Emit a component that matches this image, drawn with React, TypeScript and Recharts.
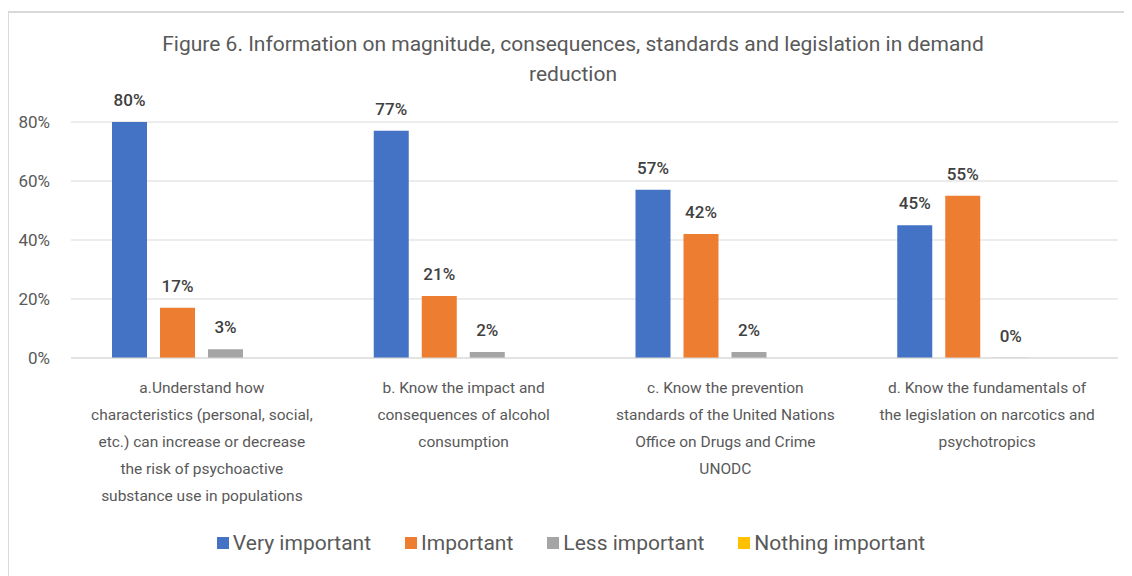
import React from "react";
import {
  BarChart,
  Bar,
  XAxis,
  YAxis,
  CartesianGrid,
  Legend,
  LabelList,
} from "recharts";

const title =
  "Figure 6. Information on magnitude, consequences, standards and legislation in demand\nreduction";

const categories = [
  "a.Understand how\ncharacteristics (personal, social,\netc.) can increase or decrease\nthe risk of psychoactive\nsubstance use in populations",
  "b. Know the impact and\nconsequences of alcohol\nconsumption",
  "c. Know the prevention\nstandards of the United Nations\nOffice on Drugs and Crime\nUNODC",
  "d. Know the fundamentals of\nthe legislation on narcotics and\npsychotropics",
];

const veryImportant = [80, 77, 57, 45];
const important = [17, 21, 42, 55];
const lessImportant = [3, 2, 2, 0];
const nothingImportant = [0, 0, 0, 0];

const seriesNames = ["Very important", "Important", "Less important", "Nothing important"];
const seriesColors = ["#4472C4", "#ED7D31", "#A5A5A5", "#FFC000"];
const yTicks = [0, 20, 40, 60, 80];

const data = categories.map((cat, i) => ({
  cat,
  very: veryImportant[i],
  imp: important[i],
  less: lessImportant[i],
  nothing: nothingImportant[i],
}));

const FONT = '"Liberation Sans Narrow", "Arial Narrow", Roboto, sans-serif';
const TEXT = "#595959";

function CategoryTick(props: any) {
  const { x, y, payload } = props;
  const lines = String(payload.value).split("\n");
  return (
    <text
      x={x}
      y={y + 33}
      textAnchor="middle"
      fill={TEXT}
      fontSize={15.5}
      fontFamily={FONT}
    >
      {lines.map((line, i) => (
        <tspan key={i} x={x} dy={i === 0 ? 0 : 27}>
          {line}
        </tspan>
      ))}
    </text>
  );
}

function LegendContent() {
  return (
    <div
      style={{
        height: 30,
        display: "flex",
        justifyContent: "center",
        alignItems: "center",
        paddingLeft: 16,
        fontFamily: FONT,
        fontSize: 21,
        color: TEXT,
      }}
    >
      {seriesNames.map((name, i) => (
        <div
          key={name}
          style={{ display: "flex", alignItems: "center", marginRight: i < 3 ? 34 : 0 }}
        >
          <span
            style={{
              width: 12,
              height: 12,
              background: seriesColors[i],
              display: "inline-block",
              marginRight: 4,
            }}
          />
          <span>{name}</span>
        </div>
      ))}
    </div>
  );
}

const labelStyle = { fill: "#404040", fontSize: 17, fontFamily: FONT, fontWeight: 500 };

export default function App() {
  return (
    <div
      style={{
        position: "relative",
        width: 1124,
        height: 568,
        overflow: "hidden",
        background: "#fff",
      }}
    >
      <div
        style={{
          position: "absolute",
          left: -1,
          top: 3,
          width: 2000,
          height: 2000,
          border: "2px solid #D9D9D9",
        }}
      />
      <div
        style={{
          position: "absolute",
          top: 21,
          left: 0,
          width: 1130,
          textAlign: "center",
          whiteSpace: "pre-line",
          fontFamily: FONT,
          fontSize: 21,
          lineHeight: "30px",
          color: TEXT,
        }}
      >
        {title}
      </div>
      <BarChart
        width={1124}
        height={568}
        data={data}
        margin={{ top: 114, right: 14, left: 0, bottom: 18 }}
        barCategoryGap={41}
        barGap={13}
      >
        <CartesianGrid horizontal vertical={false} stroke="#D9D9D9" />
        <XAxis
          dataKey="cat"
          interval={0}
          height={170}
          tick={<CategoryTick />}
          tickLine={false}
          tickSize={0}
          axisLine={{ stroke: "#D9D9D9" }}
        />
        <YAxis
          domain={[0, 80]}
          ticks={yTicks}
          width={63}
          tickFormatter={(v) => `${v}%`}
          tick={{ fill: TEXT, fontSize: 17, fontFamily: FONT }}
          tickLine={false}
          tickSize={0}
          tickMargin={21}
          axisLine={false}
        />
        <Legend verticalAlign="bottom" content={<LegendContent />} />
        <Bar dataKey="very" name={seriesNames[0]} fill={seriesColors[0]} isAnimationActive={false}>
          <LabelList dataKey="very" position="top" offset={16} formatter={(v: any) => `${v}%`} style={labelStyle} />
        </Bar>
        <Bar dataKey="imp" name={seriesNames[1]} fill={seriesColors[1]} isAnimationActive={false}>
          <LabelList dataKey="imp" position="top" offset={16} formatter={(v: any) => `${v}%`} style={labelStyle} />
        </Bar>
        <Bar
          dataKey="less"
          name={seriesNames[2]}
          fill={seriesColors[2]}
          minPointSize={0.3}
          isAnimationActive={false}
        >
          <LabelList dataKey="less" position="top" offset={16} formatter={(v: any) => `${v}%`} style={labelStyle} />
        </Bar>
        <Bar dataKey="nothing" name={seriesNames[3]} fill={seriesColors[3]} isAnimationActive={false} />
      </BarChart>
    </div>
  );
}
